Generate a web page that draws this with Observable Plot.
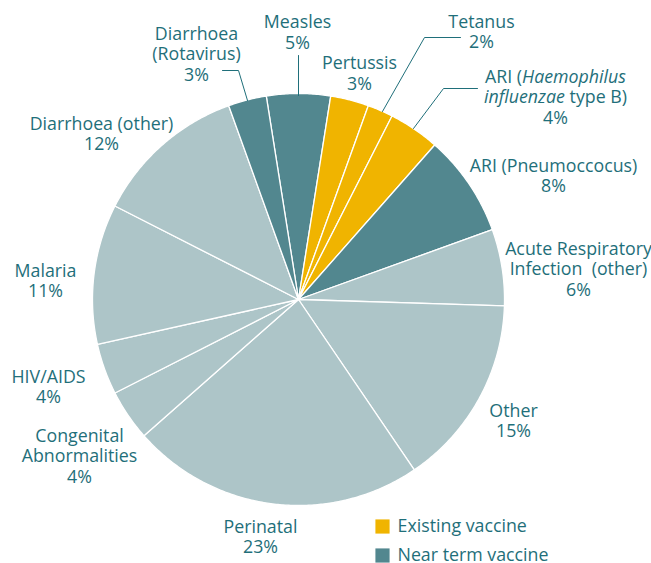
<!DOCTYPE html>
<html><head><meta charset="utf-8">
<script src="https://cdn.jsdelivr.net/npm/d3@7"></script>
<script src="https://cdn.jsdelivr.net/npm/@observablehq/plot@0.6"></script>
<style>
body{margin:0;background:#fff}
#chart svg text{white-space:pre}
</style>
</head><body><div id="chart"></div>
<script>
// ---- data ----
const causes = [
  "Measles","Pertussis","Tetanus","ARI (*Haemophilus*\n*influenzae* type B)",
  "ARI (Pneumoccocus)","Acute Respiratory\nInfection  (other)","Other","Perinatal",
  "Congenital\nAbnormalities","HIV/AIDS","Malaria","Diarrhoea (other)","Diarrhoea\n(Rotavirus)"
];
const shares = [5,3,2,4,8,6,15,23,4,4,11,12,3];
const vaccine = [
  "Near term vaccine","Existing vaccine","Existing vaccine","Existing vaccine",
  "Near term vaccine","None","None","None","None","None","None","None","Near term vaccine"
];
const legendLabels = ["Existing vaccine","Near term vaccine"];

// ---- layout / style ----
const W = 651, H = 563;
const cx = 298, cy = 299, R = 206, startDeg = -9;
const textColor = "#1f6f7a";
const fontSize = 17.8;
const colorDomain = ["Existing vaccine","Near term vaccine","None"];
const colorRange = ["#f0b400","#52878f","#adc5c8"];
const labelPos = [[297,31.5],[359,72.5],[481,31],[555,96],[553,175],[578,268],[513,420],[260,536],[79,455],[48,386],[45,280],[101,133],[196,53]];
const leaders = [
  [[222,70],[238,70],[247,100]],
  [[298,55],[298,95]],
  [[460,37],[424,37],[382,111]],
  [[477,88],[443,88],[413,128]]
];

// ---- geometry from data ----
const total = d3.sum(shares);
let acc = 0;
const slicePts = [];
causes.forEach((c, i) => {
  const a0 = startDeg + acc / total * 360;
  acc += shares[i];
  const a1 = startDeg + acc / total * 360;
  const pts = [{x: cx, y: cy}];
  const n = Math.max(2, Math.ceil((a1 - a0) / 0.5));
  for (let k = 0; k <= n; k++) {
    const a = (a0 + (a1 - a0) * k / n) * Math.PI / 180;
    pts.push({x: cx + R * Math.sin(a), y: cy - R * Math.cos(a)});
  }
  pts.push({x: cx, y: cy});
  pts.forEach(p => slicePts.push({...p, slice: c, group: vaccine[i]}));
});

const labels = causes.map((c, i) => ({text: c + "\n" + shares[i] + "%", x: labelPos[i][0], y: labelPos[i][1]}));
const leaderPts = leaders.flatMap((l, j) => l.map(([x, y]) => ({x, y, id: j})));
const legend = legendLabels.map((l, i) => ({label: l, x: 382, y: 526 + i * 29}));

const chart = Plot.plot({
  width: W, height: H, margin: 0,
  x: {domain: [0, W], range: [0, W], axis: null},
  y: {domain: [0, H], range: [0, H], axis: null},
  color: {domain: colorDomain, range: colorRange},
  style: {fontFamily: "'Open Sans', sans-serif", background: "#fff"},
  marks: [
    Plot.line(slicePts, {x: "x", y: "y", z: "slice", fill: "group", stroke: "#fff", strokeWidth: 1.3, curve: "linear"}),
    Plot.line(leaderPts, {x: "x", y: "y", z: "id", stroke: textColor, strokeWidth: 1}),
    Plot.text(labels, {x: "x", y: "y", text: "text", fill: textColor, fontSize, fontWeight: 500, lineHeight: 1.15, textAnchor: "middle"}),
    Plot.dot(legend, {x: "x", y: "y", symbol: "square", r: 8, fill: "label", stroke: null}),
    Plot.text(legend, {x: d => d.x + 15, y: "y", text: "label", fill: textColor, fontSize, fontWeight: 500, textAnchor: "start"})
  ]
});
document.getElementById("chart").appendChild(chart);

// italics for species names marked with *...*
chart.querySelectorAll("text, tspan").forEach(el => {
  if (el.childNodes.length === 1 && el.firstChild.nodeType === 3 && el.textContent.includes("*")) {
    const parts = el.textContent.split("*");
    el.textContent = "";
    parts.forEach((p, k) => {
      if (!p) return;
      const t = document.createElementNS("http://www.w3.org/2000/svg", "tspan");
      t.textContent = p;
      if (k % 2 === 1) t.setAttribute("font-style", "italic");
      el.appendChild(t);
    });
  }
});
</script>
</body></html>
